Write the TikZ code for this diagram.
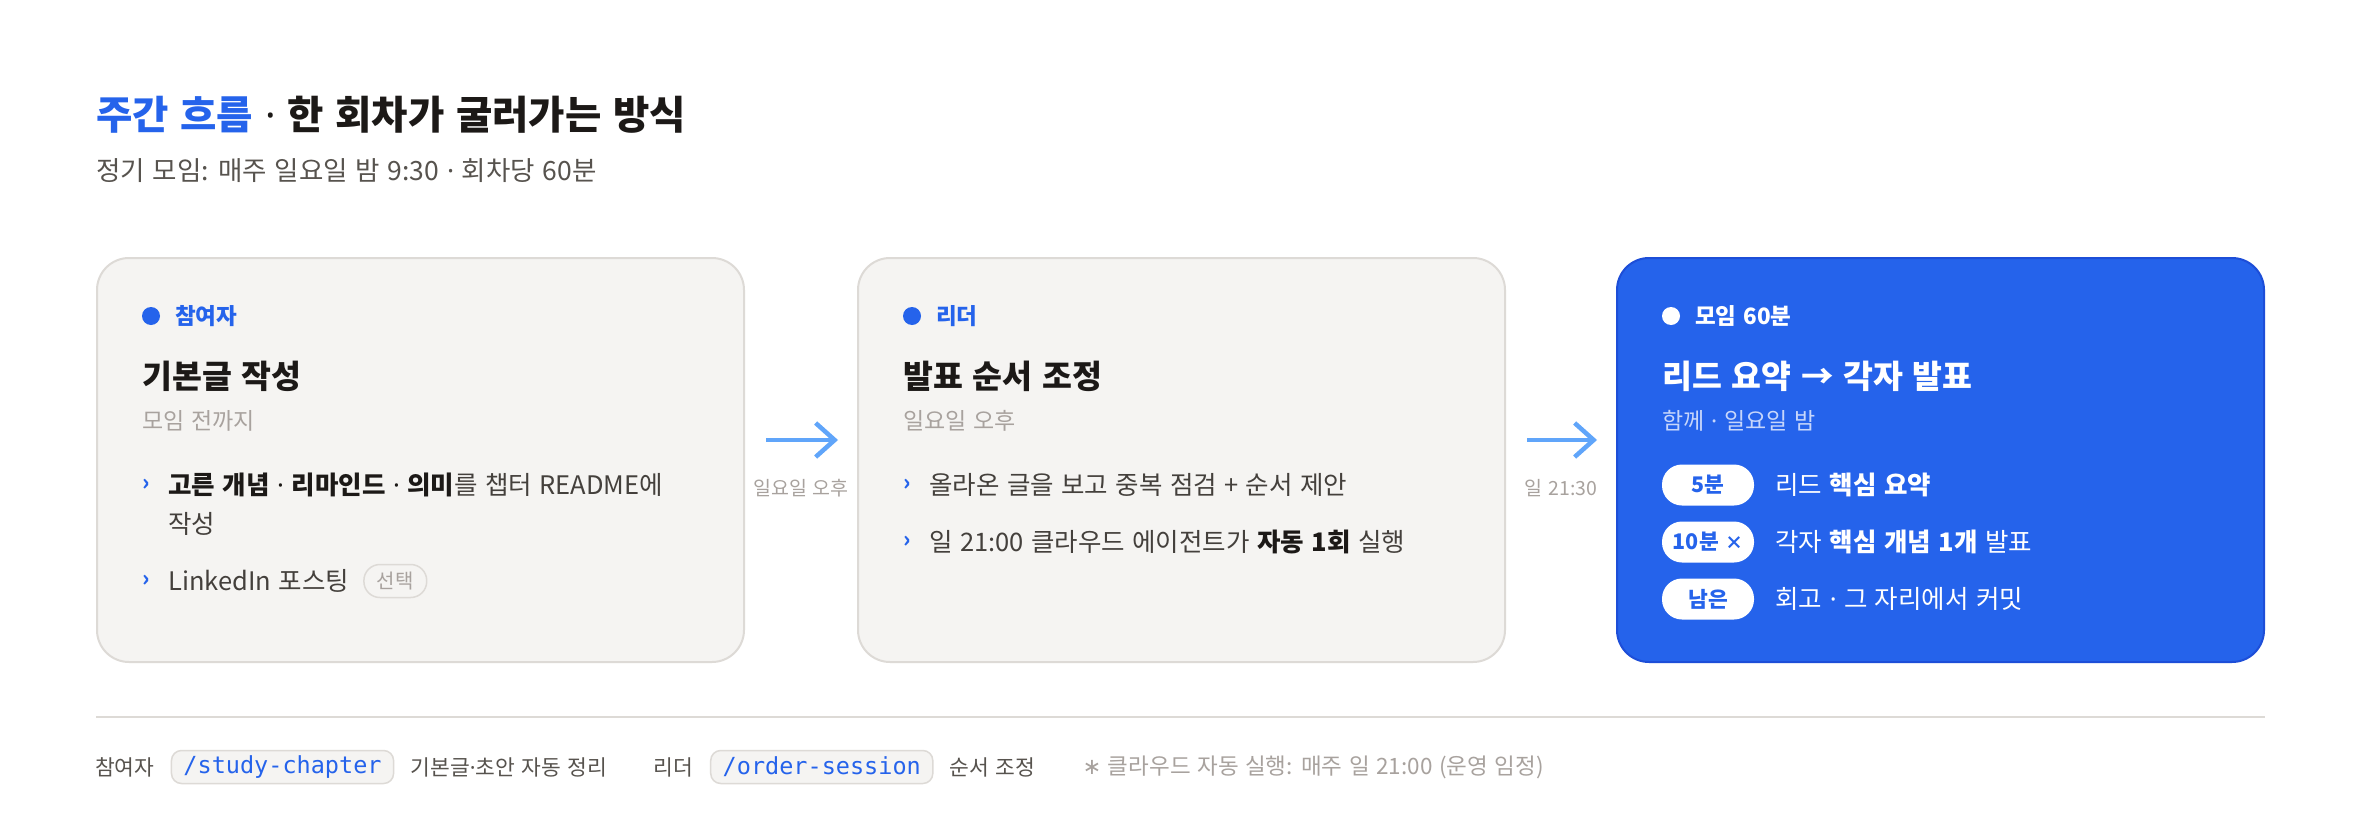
\documentclass[tikz,border=0pt]{standalone}
\usepackage{fontspec}
\setmainfont{Noto Sans CJK KR}[WordSpace=1.3]
\newfontfamily\latinfont{Noto Sans}
\newfontfamily\symfont{DejaVu Sans}
\newfontfamily\codefont{DejaVu Sans Mono}
\usepackage{tikz}
\usetikzlibrary{arrows.meta,calc,positioning}
\definecolor{accent}{HTML}{2563EB}
\definecolor{accentedge}{HTML}{1D4ED8}
\definecolor{arrowblue}{HTML}{60A5FA}
\definecolor{cardfill}{HTML}{F5F4F2}
\definecolor{cardline}{HTML}{DDDAD6}
\definecolor{ink}{HTML}{1C1917}
\definecolor{body}{HTML}{44403C}
\definecolor{soft}{HTML}{57534E}
\definecolor{muted}{HTML}{A8A29E}
\definecolor{paleblue}{HTML}{C7D6FB}
\newcommand\hot[1]{\textbf{\color{ink}#1}}
\newcommand\midsep{{\latinfont ·}}
\tikzset{
        card/.style = {draw=cardline, fill=cardfill, line width=2pt,
            rounded corners=32pt, anchor=north west, inner sep=0pt,
            minimum width=647pt, minimum height=404pt},
        hotcard/.style = {card, draw=accentedge, fill=accent},
        roledot/.style = {circle, fill=accent, inner sep=0pt, minimum size=18pt},
        role/.style = {anchor=west, inner sep=0pt, text=accent,
            font=\fontsize{22.5}{22.5}\selectfont\bfseries},
        heading/.style = {anchor=west, inner sep=0pt, text=ink,
            font=\fontsize{32.5}{32.5}\selectfont\bfseries},
        when/.style = {anchor=west, inner sep=0pt, text=muted,
            font=\fontsize{23}{23}\selectfont},
        chev/.style = {inner sep=0pt, text=accent,
            font=\fontsize{22}{22}\selectfont\bfseries},
        item/.style = {anchor=west, inner sep=0pt, text=body,
            font=\fontsize{25.5}{25.5}\selectfont},
        opt/.style = {draw=cardline, fill=cardfill, line width=1.5pt,
            rounded corners=16pt, inner xsep=13pt, inner ysep=0pt,
            minimum height=33pt, text=muted, font=\fontsize{20}{20}\selectfont},
        pill/.style = {fill=white, rounded corners=20pt, inner sep=0pt,
            minimum width=92pt, minimum height=41pt, text=accent,
            font=\fontsize{21.5}{21.5}\selectfont\bfseries},
        arrow/.style = {draw=arrowblue, line width=4.5pt,
            shorten <=21pt, shorten >=19pt,
            -{Straight Barb[length=19pt,width=34pt]}},
        gap/.style = {inner sep=0pt, text=muted, font=\fontsize{19.5}{19.5}\selectfont},
        rule/.style = {draw=cardline, line width=2pt},
        foot/.style = {anchor=west, inner sep=0pt, text=soft,
            font=\fontsize{21.5}{21.5}\selectfont},
        cmd/.style = {draw=cardline, fill=cardfill, line width=1.5pt,
            rounded corners=10pt, inner xsep=12pt, inner ysep=0pt,
            minimum height=33pt, text=accent,
            font=\fontsize{23.5}{23.5}\selectfont\codefont},
    }

\begin{document}
\begin{tikzpicture}[x=1pt,y=-1pt]
    \fill[white] (0,0) rectangle (2360,816);
    \useasboundingbox (0,0) rectangle (2360,816);

    % title
    \node[anchor=west, inner sep=0pt, text=ink, font=\fontsize{39.5}{39.5}\selectfont\bfseries]
        (title) at (96,115) {{\color{accent}주간 흐름} \midsep{} 한 회차가 굴러가는 방식};
    \node[anchor=west, inner sep=0pt, text=soft, font=\fontsize{26.5}{26.5}\selectfont]
        (subtitle) at (96,171) {정기 모임: 매주 일요일 밤 9:30 \midsep{} 회차당 60분};

    % cards
    \node[card] (card1) at (96,257) {};
    \node[card] (card2) at (857,257) {};
    \node[hotcard] (card3) at (1616,257) {};

    % participant
    \node[roledot] (d1) at ($(card1.north west)+(55,59)$) {};
    \node[role] (r1) at ($(card1.north west)+(79,59)$) {참여자};
    \node[heading] (h1) at ($(card1.north west)+(46,119)$) {기본글 작성};
    \node[when] (w1) at ($(card1.north west)+(46,164)$) {모임 전까지};
    \node[chev] (c1) at ($(card1.north west)+(50,228)$) {›};
    \node[item] (b1) at ($(card1.north west)+(72,228)$) {\hot{고른 개념 \midsep{} 리마인드 \midsep{} 의미}를 챕터 README에};
    \node[item] (b1x) at ($(b1.west)+(0,39)$) {작성};
    \node[chev] (c2) at ($(c1)+(0,96)$) {›};
    \node[item] (b2) at ($(b1.west)+(0,96)$) {LinkedIn 포스팅};
    \node[opt, right=14pt of b2] (o1) {선택};

    % leader
    \node[roledot] (d2) at ($(card2.north west)+(55,59)$) {};
    \node[role] (r2) at ($(card2.north west)+(79,59)$) {리더};
    \node[heading] (h2) at ($(card2.north west)+(46,119)$) {발표 순서 조정};
    \node[when] (w2) at ($(card2.north west)+(46,164)$) {일요일 오후};
    \node[chev] (c3) at ($(card2.north west)+(50,228)$) {›};
    \node[item] (b3) at ($(card2.north west)+(72,228)$) {올라온 글을 보고 중복 점검 + 순서 제안};
    \node[chev] (c4) at ($(c3)+(0,57)$) {›};
    \node[item] (b4) at ($(b3.west)+(0,57)$) {일 21:00 클라우드 에이전트가 \hot{자동 1회} 실행};

    % meeting
    \node[roledot, fill=white] (d3) at ($(card3.north west)+(55,59)$) {};
    \node[role, text=white] (r3) at ($(card3.north west)+(79,59)$) {모임 60분};
    \node[heading, text=white] (h3) at ($(card3.north west)+(46,119)$) {리드 요약 → 각자 발표};
    \node[when, text=paleblue] (w3) at ($(card3.north west)+(46,164)$) {함께 \midsep{} 일요일 밤};
    \node[pill] (p1) at ($(card3.north west)+(92,228)$) {5분};
    \node[pill] (p2) at ($(p1)+(0,57)$) {10분 {\fontsize{18}{18}\selectfont ×}};
    \node[pill] (p3) at ($(p2)+(0,57)$) {남은};
    \node[item, text=white, right=21pt of p1] (t1) {리드 \textbf{핵심 요약}};
    \node[item, text=white, right=21pt of p2] (t2) {각자 \textbf{핵심 개념 1개} 발표};
    \node[item, text=white, right=21pt of p3] (t3) {회고 \midsep{} 그 자리에서 커밋};

    % arrows
    \draw[arrow] ([yshift=20pt]card1.east) -- ([yshift=20pt]card2.west);
    \draw[arrow] ([yshift=20pt]card2.east) -- ([yshift=20pt]card3.west);
    \node[gap] (g1) at ($(card1.east)!0.5!(card2.west)+(0,28)$) {일요일 오후};
    \node[gap] (g2) at ($(card2.east)!0.5!(card3.west)+(0,28)$) {일 21:30};

    % footer
    \draw[rule] ($(card1.south west)+(0,54)$) -- ($(card3.south east)+(0,54)$);
    \node[foot] (f1) at (95,767) {참여자};
    \node[cmd, right=16pt of f1] (f2) {/study-chapter};
    \node[foot, right=16pt of f2] (f3) {기본글\midsep{}초안 자동 정리};
    \node[foot, right=46pt of f3] (f4) {리더};
    \node[cmd, right=17pt of f4] (f5) {/order-session};
    \node[foot, right=16pt of f5] (f6) {순서 조정};
    \node[foot, text=muted, font=\fontsize{22.5}{22.5}\selectfont, right=47pt of f6] (f7)
        {{\symfont ∗} 클라우드 자동 실행: 매주 일 21:00 (운영 임정)};
\end{tikzpicture}
\end{document}
